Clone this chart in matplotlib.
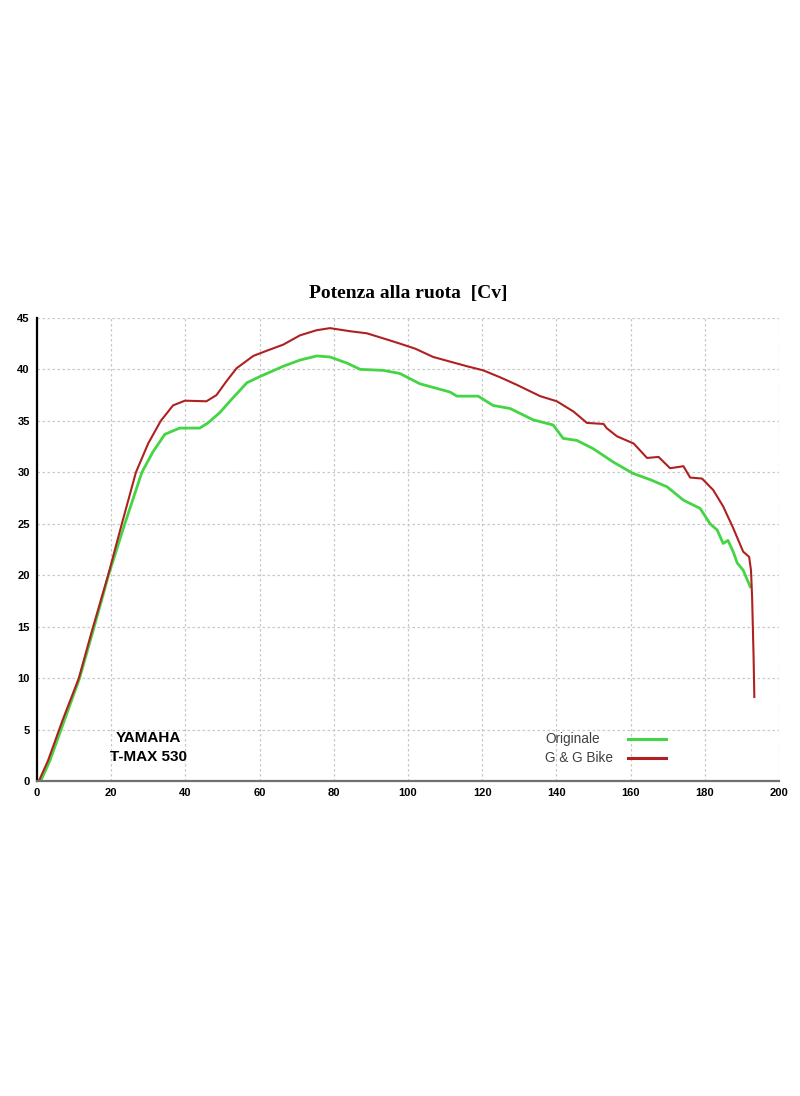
import matplotlib.pyplot as plt
import numpy as np

# curva G & G Bike
gg_x = [0.5, 3, 7, 11.3, 15, 19.2, 22.9, 26.7, 30, 33.4, 36.7, 39.9, 45.7, 48.4, 51, 53.8, 58.3, 61.9,
        66.4, 70.9, 75.4, 79, 84.4, 88.9, 94.3, 97.8, 102, 106.8, 115.9, 120.3, 125, 129.3, 135.6,
        140.1, 144.6, 148.2, 152.7, 153.5, 156.3, 160.8, 164.4, 167.5, 170.6, 174.2, 176, 179.2,
        182.2, 184.9, 187.6, 190.3, 191.9, 192.4, 192.7, 193.1, 193.3]
gg_y = [0, 2, 6, 10, 14.8, 20, 25, 30, 32.8, 35, 36.5, 36.96, 36.9, 37.5, 38.8, 40.1, 41.3, 41.8,
        42.4, 43.3, 43.8, 44.0, 43.7, 43.5, 42.9, 42.5, 42.0, 41.2, 40.3, 39.9, 39.2, 38.5, 37.4,
        36.9, 35.9, 34.8, 34.7, 34.3, 33.5, 32.8, 31.4, 31.5, 30.4, 30.6, 29.5, 29.4,
        28.3, 26.7, 24.6, 22.3, 21.8, 20.5, 17.9, 12.1, 8.2]

# curva Originale
orig_x = [1, 3.5, 7.5, 11.5, 15.3, 19.3, 23.7, 28.3, 31.3, 34.5, 38.5, 43.9, 46.1, 49.3, 52, 56.6,
          60.1, 66.4, 70.9, 75.4, 79, 83.6, 87.1, 93.3, 97.8, 103.2, 111.3, 113.2, 118.9, 122.9,
          127.5, 133.7, 139.1, 141.8, 145.5, 149.9, 155.3, 160.6, 165.2, 169.8, 174.2, 178.7,
          181.4, 183.3, 184.9, 186.2, 187.6, 188.7, 190.3, 192.2]
orig_y = [0, 2, 6, 10, 14.8, 20, 25, 30, 32.0, 33.7, 34.3, 34.3, 34.8, 35.8, 36.9, 38.7,
          39.3, 40.3, 40.9, 41.3, 41.2, 40.6, 40.0, 39.9, 39.6, 38.6, 37.8, 37.4, 37.4, 36.5,
          36.2, 35.1, 34.6, 33.3, 33.1, 32.3, 31.0, 29.9, 29.3, 28.6, 27.3, 26.5,
          25.0, 24.4, 23.1, 23.4, 22.3, 21.2, 20.5, 18.9]

labels = ["Originale", "G & G Bike"]
colors = ["#44d444", "#b02020"]

fig = plt.figure(figsize=(8, 10.96), dpi=100)
ax = fig.add_axes([0.046, 0.287, 0.928, 0.423])

ax.plot(orig_x, orig_y, color=colors[0], lw=2)
ax.plot(gg_x, gg_y, color=colors[1], lw=1.5)

ax.set_xlim(0, 200)
ax.set_ylim(0, 45)
ax.set_xticks(np.arange(0, 201, 20))
ax.set_yticks(np.arange(0, 46, 5))
ax.grid(True, color="#c8c8c8", linestyle=(0, (2, 2)), lw=0.9)
ax.tick_params(length=0, labelsize=8, pad=5)
for lab in ax.get_xticklabels() + ax.get_yticklabels():
    lab.set_fontweight("bold")
    lab.set_family("Liberation Sans")

ax.spines["top"].set_visible(False)
ax.spines["right"].set_visible(False)
ax.spines["left"].set_color("black")
ax.spines["left"].set_linewidth(1.6)
ax.spines["bottom"].set_color("#707070")
ax.spines["bottom"].set_linewidth(1.6)

ax.set_title("Potenza alla ruota  [Cv]", family="Liberation Serif", fontweight="bold",
             fontsize=14, pad=14)

ax.text(30, 4.2, "YAMAHA", family="Liberation Sans", fontweight="bold", fontsize=11,
        ha="center", va="center")
ax.text(30, 2.4, "T-MAX 530", family="Liberation Sans", fontweight="bold", fontsize=11,
        ha="center", va="center")

# legenda: testo a sinistra, linea a destra
for i in range(2):
    yy = 0.091 - i * 0.041
    ax.text(0.6846, yy, labels[i], transform=ax.transAxes, family="Liberation Sans",
            fontsize=9.8, color="#404040", ha="left", va="center")
    ax.plot([0.7965, 0.8477], [yy, yy], transform=ax.transAxes, color=colors[i], lw=2.2)

fig.savefig("out.png", dpi=100)
